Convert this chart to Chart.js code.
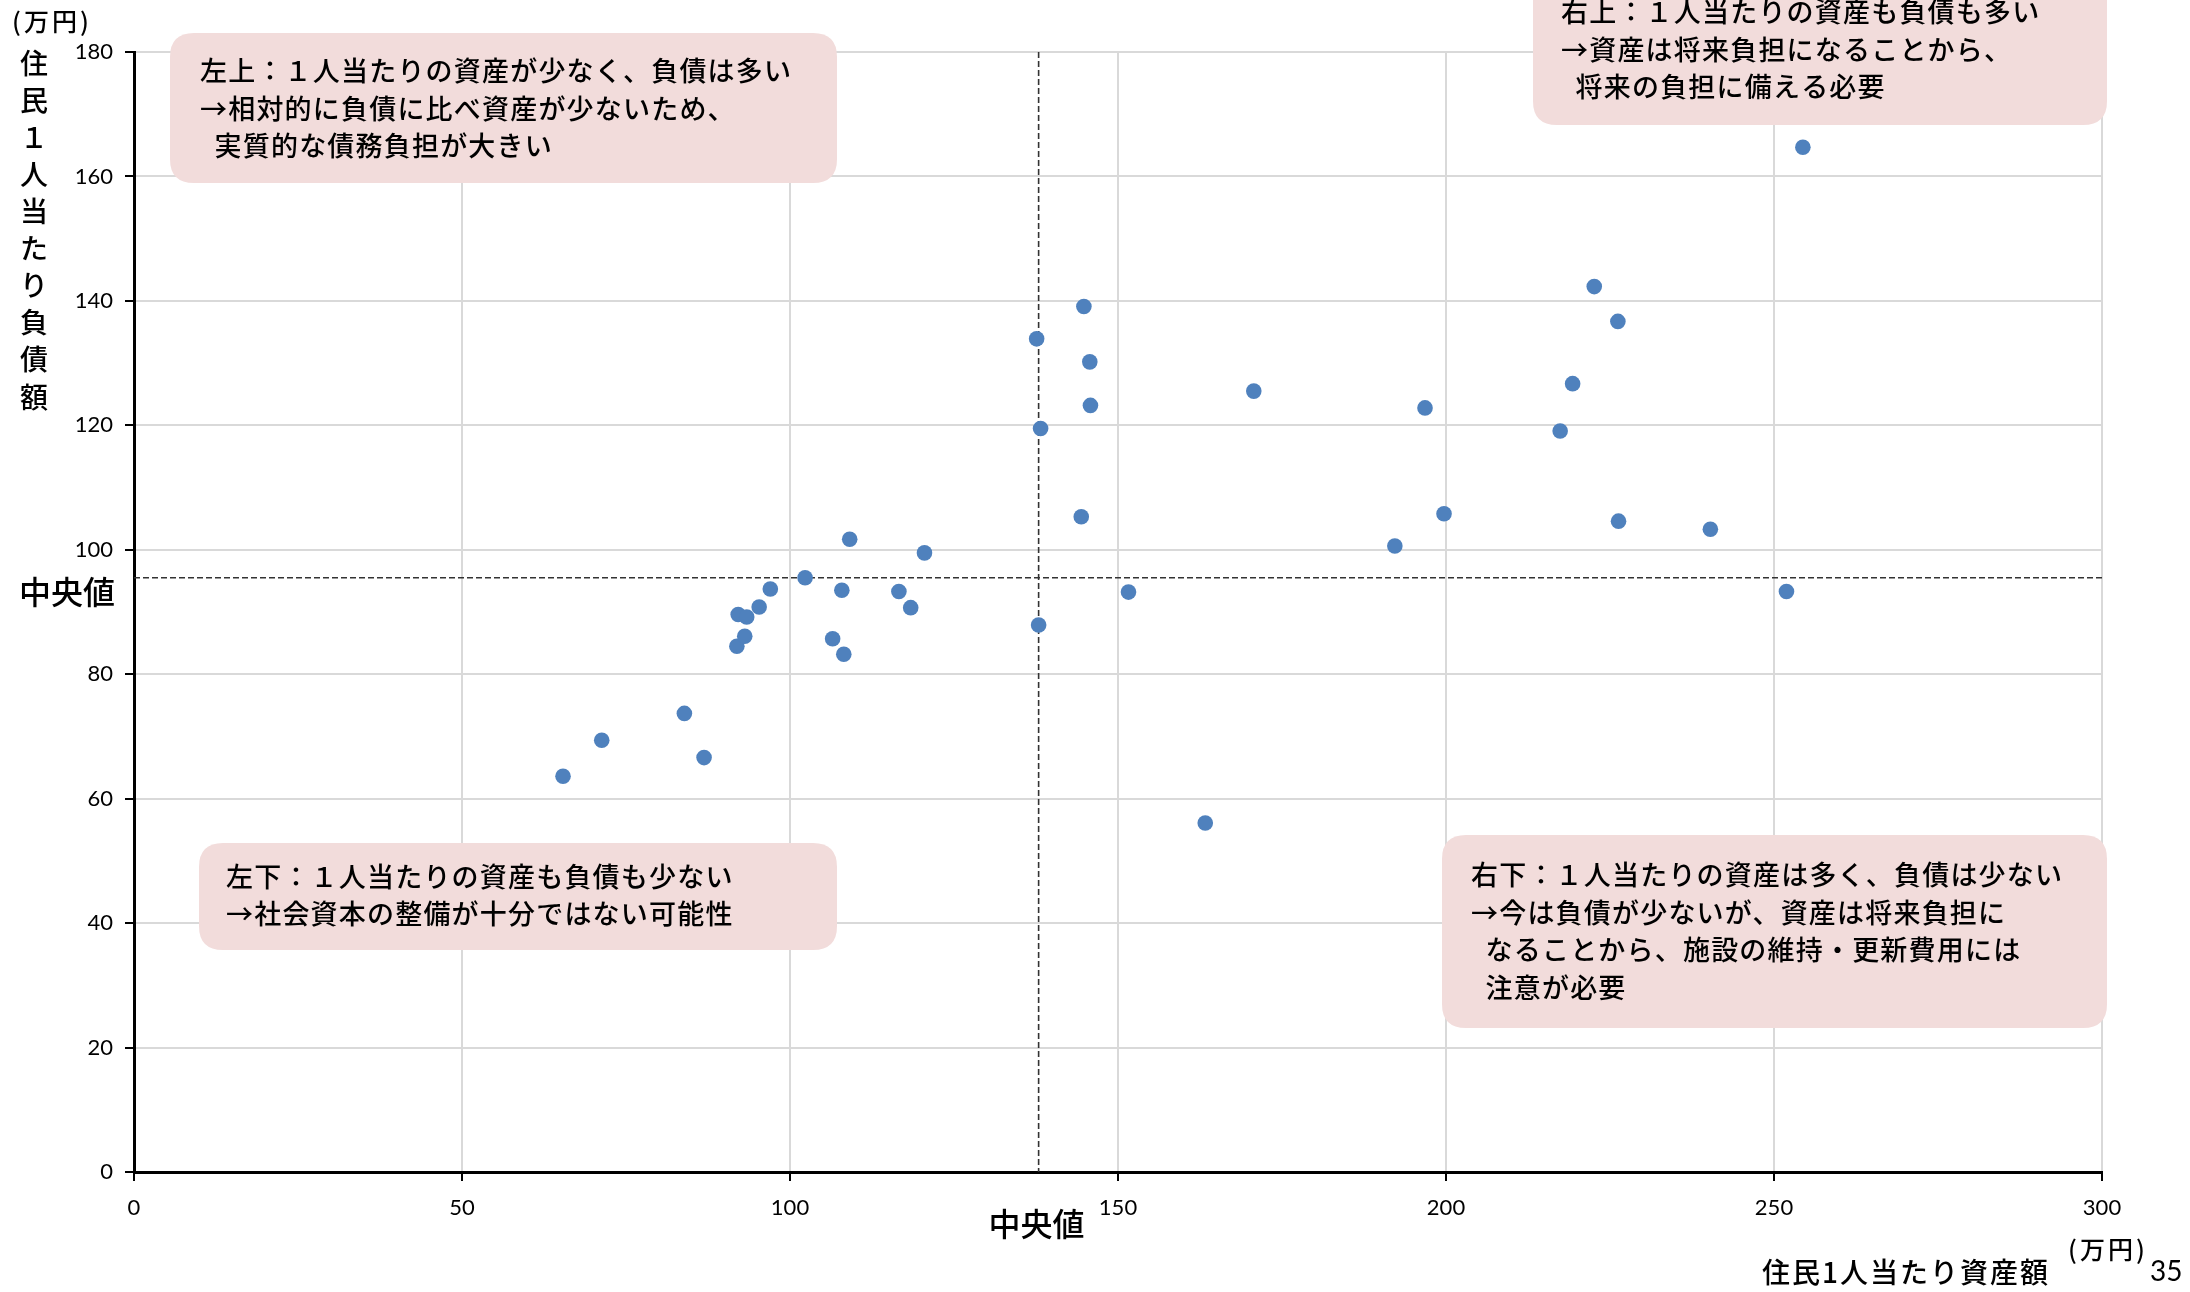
<!DOCTYPE html>
<html lang="ja">
<head>
<meta charset="utf-8">
<title>住民1人当たり資産額と負債額</title>
<script src="https://cdn.jsdelivr.net/npm/chart.js@4/dist/chart.umd.min.js"></script>
<style>
  html, body { margin: 0; padding: 0; background: #fff; }
  #wrap { width: 2190px; height: 1292px; position: relative; }
  canvas { display: block; }
</style>
</head>
<body>
<div id="wrap"><canvas id="chart" width="2190" height="1292"></canvas></div>
<script>
// 住民1人当たり資産額（万円） — one entry per municipality
const assetsPerResident = [
  65.4, 71.3, 83.9, 86.9, 91.9, 92.1, 93.1, 93.4, 95.3, 97.0,
  102.3, 106.5, 107.9, 108.2, 109.1, 116.6, 118.4, 120.5, 137.6, 138.2,
  137.9, 144.8, 145.7, 145.8, 144.4, 151.6, 163.3, 170.7, 192.2, 196.8,
  199.7, 217.4, 219.3, 222.6, 226.2, 226.3, 240.3, 251.9, 254.4
];
// 住民1人当たり負債額（万円） — same order as above
const debtPerResident = [
  63.6, 69.4, 73.7, 66.6, 84.5, 89.6, 86.1, 89.2, 90.8, 93.7,
  95.5, 85.7, 93.5, 83.2, 101.7, 93.3, 90.7, 99.5, 133.9, 119.5,
  87.9, 139.1, 130.2, 123.2, 105.3, 93.2, 56.1, 125.5, 100.6, 122.8,
  105.8, 119.1, 126.7, 142.3, 136.7, 104.6, 103.3, 93.3, 164.7
];

const xTickValues = [0, 50, 100, 150, 200, 250, 300];
const yTickValues = [0, 20, 40, 60, 80, 100, 120, 140, 160, 180];

const xAxisTitle = '住民1人当たり資産額';
const yAxisTitle = ['住', '民', '１', '人', '当', 'た', 'り', '負', '債', '額'];
const unitLabel = '(万円)';
const medianLabel = '中央値';
const pageNumber = '35';

const noteTopLeft = [
  '左上：１人当たりの資産が少なく、負債は多い',
  '→相対的に負債に比べ資産が少ないため、',
  '  実質的な債務負担が大きい'
];
const noteTopRight = [
  '右上：１人当たりの資産も負債も多い',
  '→資産は将来負担になることから、',
  '  将来の負担に備える必要'
];
const noteBottomLeft = [
  '左下：１人当たりの資産も負債も少ない',
  '→社会資本の整備が十分ではない可能性'
];
const noteBottomRight = [
  '右下：１人当たりの資産は多く、負債は少ない',
  '→今は負債が少ないが、資産は将来負担に',
  '  なることから、施設の維持・更新費用には',
  '  注意が必要'
];

function median(values) {
  const s = values.slice().sort((a, b) => a - b);
  const m = Math.floor(s.length / 2);
  return s.length % 2 ? s[m] : (s[m - 1] + s[m]) / 2;
}
const medianAssets = median(assetsPerResident);
const medianDebt = median(debtPerResident);

const points = assetsPerResident.map((x, i) => ({ x, y: debtPerResident[i] }));

const CJK = '"Noto Sans CJK JP", "Noto Sans CJK SC", sans-serif';
const NUM = 'Lato, "Liberation Sans", sans-serif';

function setSpacing(ctx, px) {
  if ('letterSpacing' in ctx) ctx.letterSpacing = px + 'px';
}

function roundedRect(ctx, x, y, w, h, r) {
  ctx.beginPath();
  ctx.moveTo(x + r, y);
  ctx.lineTo(x + w - r, y);
  ctx.quadraticCurveTo(x + w, y, x + w, y + r);
  ctx.lineTo(x + w, y + h - r);
  ctx.quadraticCurveTo(x + w, y + h, x + w - r, y + h);
  ctx.lineTo(x + r, y + h);
  ctx.quadraticCurveTo(x, y + h, x, y + h - r);
  ctx.lineTo(x, y + r);
  ctx.quadraticCurveTo(x, y, x + r, y);
  ctx.closePath();
}

function drawNote(ctx, lines, box, textX, firstY, lineGap) {
  ctx.save();
  roundedRect(ctx, box[0], box[1], box[2] - box[0], box[3] - box[1], 24);
  ctx.fillStyle = '#f2dcdb';
  ctx.fill();
  ctx.fillStyle = '#000';
  ctx.font = '500 27px ' + CJK;
  setSpacing(ctx, 1.2);
  ctx.textAlign = 'left';
  ctx.textBaseline = 'middle';
  lines.forEach((t, i) => ctx.fillText(t, textX, firstY + i * lineGap));
  ctx.restore();
}

// Dashed median guide lines, drawn above the grid and below the markers
const medianLines = {
  id: 'medianLines',
  beforeDatasetsDraw(chart) {
    const { ctx, chartArea: a, scales: { x, y } } = chart;
    const px = x.getPixelForValue(medianAssets);
    const py = y.getPixelForValue(medianDebt);
    ctx.save();
    ctx.strokeStyle = '#333';
    ctx.lineWidth = 1.6;
    ctx.setLineDash([6, 3]);
    ctx.beginPath();
    ctx.moveTo(px, a.top);
    ctx.lineTo(px, a.bottom);
    ctx.moveTo(a.left, py);
    ctx.lineTo(a.right, py);
    ctx.stroke();
    ctx.restore();
  }
};

// Quadrant notes, axis titles and page furniture
const annotations = {
  id: 'annotations',
  afterDraw(chart) {
    const { ctx, scales: { x, y } } = chart;

    drawNote(ctx, noteTopLeft, [170, 33, 837, 183], 200, 71, 37.5);
    drawNote(ctx, noteTopRight, [1533, -40, 2107, 125], 1561, 12, 37.5);
    drawNote(ctx, noteBottomLeft, [199, 843, 837, 950], 226, 877, 37);
    drawNote(ctx, noteBottomRight, [1442, 835, 2107, 1028], 1471, 875, 37.5);

    ctx.save();
    ctx.fillStyle = '#000';
    ctx.textBaseline = 'middle';

    // vertical y-axis title, one character per row
    ctx.font = '500 28px ' + CJK;
    ctx.textAlign = 'center';
    yAxisTitle.forEach((ch, i) => ctx.fillText(ch, 34, 63 + i * 37.1));

    // unit labels
    ctx.font = '500 25px ' + CJK;
    setSpacing(ctx, 3);
    ctx.fillText(unitLabel, 52, 21);
    ctx.fillText(unitLabel, 2108, 1249);
    setSpacing(ctx, 0);

    // median labels beside each axis
    ctx.font = '500 32px ' + CJK;
    ctx.fillText(medianLabel, 67, y.getPixelForValue(medianDebt) + 14);
    ctx.fillText(medianLabel, x.getPixelForValue(medianAssets) - 2, 1224);

    // x-axis title
    ctx.font = '500 28px ' + CJK;
    setSpacing(ctx, 2);
    ctx.textAlign = 'right';
    ctx.fillText(xAxisTitle, 2050, 1272);
    setSpacing(ctx, 0);

    // page number
    ctx.font = '28px ' + NUM;
    ctx.textAlign = 'left';
    ctx.fillText(pageNumber, 2150, 1272);
    ctx.restore();
  }
};

new Chart(document.getElementById('chart'), {
  type: 'scatter',
  data: {
    datasets: [{
      data: points,
      backgroundColor: '#4f81bd',
      borderColor: '#4f81bd',
      borderWidth: 0,
      pointRadius: 7.8,
      pointHoverRadius: 7.8
    }]
  },
  options: {
    responsive: false,
    animation: false,
    devicePixelRatio: 1,
    layout: { padding: { top: 52, right: 88, left: 0, bottom: 0 } },
    plugins: { legend: { display: false }, tooltip: { enabled: false } },
    scales: {
      x: {
        type: 'linear',
        min: xTickValues[0],
        max: xTickValues[xTickValues.length - 1],
        afterBuildTicks: s => { s.ticks = xTickValues.map(v => ({ value: v })); },
        afterFit: s => { s.height = 120; },
        grid: { color: '#d9d9d9', lineWidth: 2, tickLength: 9, tickColor: '#000', tickWidth: 2 },
        border: { color: '#000', width: 3 },
        ticks: { autoSkip: false, maxRotation: 0, color: '#000', padding: 14, font: { family: NUM, size: 22 } }
      },
      y: {
        type: 'linear',
        min: yTickValues[0],
        max: yTickValues[yTickValues.length - 1],
        afterBuildTicks: s => { s.ticks = yTickValues.map(v => ({ value: v })); },
        afterFit: s => { s.width = 134; },
        grid: { color: '#d9d9d9', lineWidth: 2, tickLength: 9, tickColor: '#000', tickWidth: 2 },
        border: { color: '#000', width: 3 },
        ticks: { autoSkip: false, color: '#000', padding: 12, font: { family: NUM, size: 22 } }
      }
    }
  },
  plugins: [medianLines, annotations]
});
</script>
</body>
</html>
